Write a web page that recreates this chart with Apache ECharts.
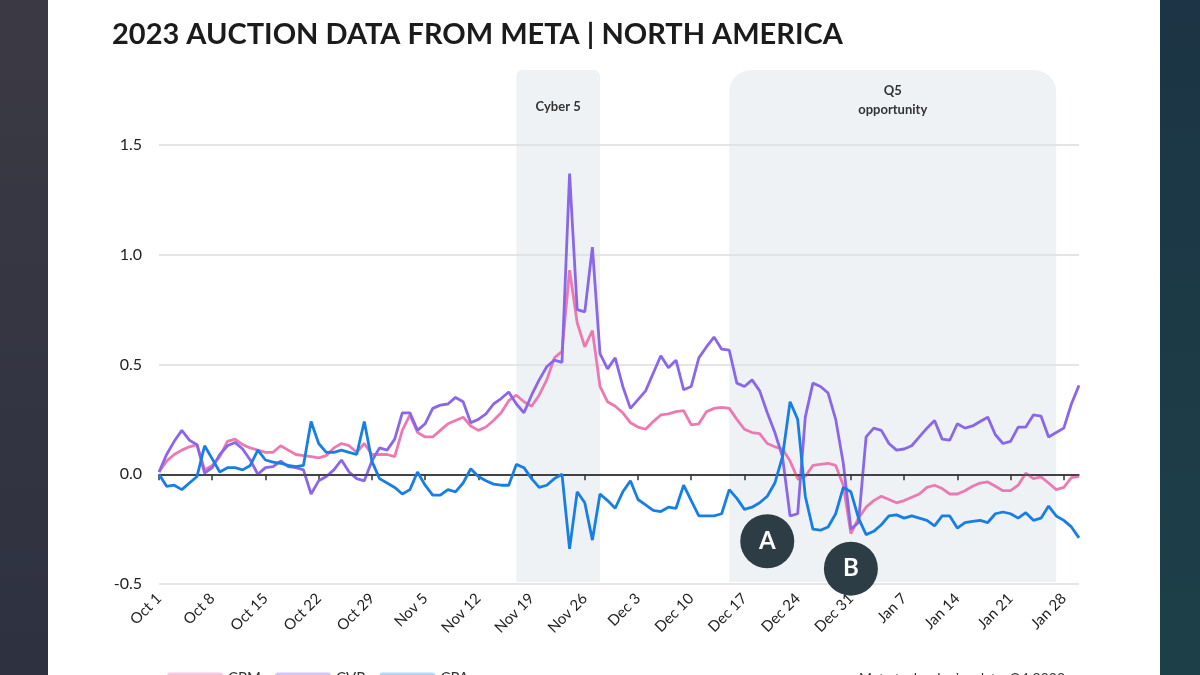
<!DOCTYPE html>
<html>
<head>
<meta charset="utf-8">
<script src="https://cdn.jsdelivr.net/npm/echarts@6/dist/echarts.min.js"></script>
<style>
html,body{margin:0;padding:0;background:#fff;}
#chart{width:1200px;height:675px;}
</style>
</head>
<body>
<div id="chart"></div>
<script>
// ---- data ----
var startMonthNames = ['Oct','Nov','Dec','Jan'];
var monthLengths = [31, 30, 31, 31];
var dayCount = 122;
var dates = [];
(function(){
  var m = 0, d = 1;
  for (var i = 0; i < dayCount; i++) {
    dates.push(startMonthNames[m] + ' ' + d);
    d++;
    if (d > monthLengths[m]) { d = 1; m++; }
  }
})();

var cpm = [0.01,0.06,0.09,0.11,0.125,0.135,0.02,0.04,0.08,0.15,
0.16,0.135,0.12,0.11,0.10,0.10,0.13,0.11,0.09,0.085,
0.08,0.075,0.085,0.12,0.14,0.13,0.10,0.14,0.09,0.09,
0.09,0.08,0.20,0.27,0.19,0.17,0.17,0.20,0.23,0.245,
0.26,0.22,0.20,0.215,0.245,0.28,0.335,0.36,0.33,0.31,
0.36,0.43,0.53,0.56,0.93,0.69,0.58,0.655,0.40,0.33,
0.31,0.28,0.235,0.215,0.205,0.24,0.27,0.275,0.285,0.29,
0.225,0.23,0.285,0.30,0.305,0.30,0.25,0.205,0.19,0.185,
0.14,0.125,0.115,0.06,-0.02,-0.01,0.04,0.045,0.05,0.04,
-0.05,-0.27,-0.20,-0.15,-0.12,-0.10,-0.115,-0.13,-0.12,-0.105,
-0.09,-0.06,-0.05,-0.065,-0.09,-0.09,-0.075,-0.055,-0.04,-0.035,
-0.055,-0.075,-0.075,-0.05,0.005,-0.02,-0.012,-0.04,-0.07,-0.06,
-0.015,-0.01];

var cvr = [0.01,0.09,0.15,0.20,0.155,0.135,0.005,0.03,0.09,0.13,
0.145,0.115,0.065,0.0,0.03,0.035,0.06,0.035,0.03,0.02,
-0.09,-0.03,-0.01,0.02,0.065,0.01,-0.02,-0.03,0.06,0.12,
0.11,0.16,0.28,0.28,0.20,0.23,0.30,0.315,0.32,0.35,
0.33,0.235,0.25,0.275,0.32,0.345,0.375,0.32,0.28,0.36,
0.43,0.49,0.52,0.51,1.37,0.75,0.74,1.035,0.55,0.48,
0.53,0.40,0.30,0.34,0.38,0.46,0.54,0.485,0.52,0.385,
0.40,0.53,0.58,0.625,0.57,0.565,0.415,0.40,0.43,0.38,
0.28,0.19,0.08,-0.19,-0.18,0.26,0.415,0.40,0.37,0.25,
0.05,-0.25,-0.22,0.17,0.21,0.20,0.14,0.11,0.115,0.13,
0.17,0.21,0.245,0.16,0.155,0.23,0.21,0.22,0.24,0.26,
0.18,0.14,0.15,0.215,0.215,0.27,0.265,0.17,0.19,0.21,
0.32,0.405];

var cpa = [0.0,-0.055,-0.05,-0.07,-0.04,-0.01,0.13,0.07,0.01,0.03,
0.03,0.02,0.04,0.11,0.065,0.055,0.05,0.04,0.035,0.04,
0.24,0.14,0.10,0.10,0.11,0.10,0.09,0.24,0.06,-0.02,
-0.04,-0.06,-0.09,-0.07,0.01,-0.05,-0.095,-0.095,-0.07,-0.08,
-0.04,0.025,-0.01,-0.03,-0.045,-0.05,-0.05,0.045,0.03,-0.02,
-0.06,-0.05,-0.02,0.0,-0.34,-0.08,-0.13,-0.30,-0.09,-0.12,
-0.155,-0.08,-0.03,-0.115,-0.14,-0.165,-0.17,-0.15,-0.155,-0.05,
-0.12,-0.19,-0.19,-0.19,-0.18,-0.07,-0.11,-0.16,-0.15,-0.13,
-0.10,-0.04,0.08,0.33,0.25,-0.10,-0.25,-0.255,-0.24,-0.18,
-0.06,-0.08,-0.20,-0.275,-0.26,-0.23,-0.19,-0.185,-0.20,-0.19,
-0.20,-0.21,-0.235,-0.19,-0.19,-0.245,-0.22,-0.215,-0.21,-0.22,
-0.18,-0.172,-0.18,-0.20,-0.175,-0.21,-0.20,-0.145,-0.19,-0.21,
-0.24,-0.29];

var seriesNames = ['CPM', 'CVR', 'CPA'];
var yTicks = [-0.5, 0.0, 0.5, 1.0, 1.5];
var regions = [
  {name: 'Cyber 5', from: 46.7, to: 57.9},
  {name: 'Q5\nopportunity', from: 74.9, to: 118.2}
];
var annotations = [
  {label: 'A', date: 'Dec 20', value: -0.305},
  {label: 'B', date: 'Dec 31', value: -0.43}
];

// ---- chart ----
var colors = ['#ec79b2', '#8a66ea', '#177ee6'];
var chart = echarts.init(document.getElementById('chart'), null, {renderer: 'canvas'});

var option = {
  animation: false,
  backgroundColor: '#ffffff',
  title: {
    text: '2023 AUCTION DATA FROM META | NORTH AMERICA',
    left: 107, top: 15,
    textStyle: {fontFamily: 'Lato', fontWeight: 'bold', fontSize: 29, color: '#1b1b1b'}
  },
  grid: {left: 159, right: 121, top: 145, bottom: 91, containLabel: false},
  legend: {
    bottom: -16, left: 162,
    itemWidth: 56, itemHeight: 12, itemGap: 14,
    icon: 'roundRect',
    textStyle: {fontFamily: 'Lato', fontSize: 15, color: '#333'},
    data: [
      {name: 'CPM', itemStyle: {color: '#f7c6df'}},
      {name: 'CVR', itemStyle: {color: '#d3c6f6'}},
      {name: 'CPA', itemStyle: {color: '#b5d6f6'}}
    ]
  },
  xAxis: {
    type: 'category',
    data: dates,
    boundaryGap: false,
    axisLine: {lineStyle: {color: '#333', width: 1.5}},
    axisTick: {show: true, interval: 6, length: 6, lineStyle: {color: '#333', width: 1.5}},
    axisLabel: {interval: 6, rotate: 45, margin: 12, fontFamily: 'Lato', fontSize: 15, color: '#222'},
    splitLine: {show: false}
  },
  yAxis: {
    type: 'value',
    min: -0.5, max: 1.5, interval: 0.5,
    axisLine: {show: false},
    axisTick: {show: false},
    axisLabel: {
      margin: 17, fontFamily: 'Lato', fontSize: 16, color: '#222',
      formatter: function(v){ return v.toFixed(1); }
    },
    splitLine: {lineStyle: {color: '#dcdcdc', width: 1.5}}
  },
  series: [
    {
      name: 'CPM', type: 'line', data: cpm, showSymbol: false,
      lineStyle: {color: colors[0], width: 2.8}, itemStyle: {color: colors[0]},
      z: 3,
      markLine: {
        silent: true, symbol: 'none', label: {show: false},
        lineStyle: {color: '#3a3a3a', width: 1.6, type: 'solid'},
        data: [{yAxis: 0}]
      }
    },
    {
      name: 'CVR', type: 'line', data: cvr, showSymbol: false,
      lineStyle: {color: colors[1], width: 2.8}, itemStyle: {color: colors[1]},
      z: 4
    },
    {
      name: 'CPA', type: 'line', data: cpa, showSymbol: false,
      lineStyle: {color: colors[2], width: 2.8}, itemStyle: {color: colors[2]},
      z: 5,
      markPoint: {
        symbol: 'circle', symbolSize: 54, silent: true,
        itemStyle: {color: '#2c3d45'},
        label: {show: true, color: '#fff', fontFamily: 'Lato', fontWeight: 'bold', fontSize: 24},
        data: annotations.map(function(a){
          return {coord: [a.date, a.value], value: a.label, label: {formatter: a.label}};
        })
      }
    }
  ]
};
chart.setOption(option);

// shaded regions & frame
var yBottom = chart.convertToPixel({yAxisIndex: 0}, -0.5) - 2;
var graphics = [
  {type: 'rect', z: -20, shape: {x: 0, y: 0, width: 48, height: 675},
   style: {fill: new echarts.graphic.LinearGradient(0,0,0,1,[{offset:0,color:'#3b3a44'},{offset:1,color:'#2e3140'}])}},
  {type: 'rect', z: -20, shape: {x: 1160, y: 0, width: 40, height: 675},
   style: {fill: new echarts.graphic.LinearGradient(0,0,0,1,[{offset:0,color:'#1c3445'},{offset:1,color:'#1d4048'}])}},
  {type: 'text', z: 10, right: 135, top: 671,
   style: {text: 'Meta technologies data, Q4 2023', fontFamily: 'Lato', fontSize: 14, fill: '#333', textAlign: 'right'}}
];
regions.forEach(function(r, i){
  var x1 = chart.convertToPixel({xAxisIndex: 0}, r.from);
  var x2 = chart.convertToPixel({xAxisIndex: 0}, r.to);
  var rad = i === 0 ? 6 : 22;
  graphics.push({
    type: 'rect', z: -10,
    shape: {x: x1, y: 70, width: x2 - x1, height: yBottom - 70, r: [rad, rad, 0, 0]},
    style: {fill: '#eef2f5'}
  });
  graphics.push({
    type: 'text', z: 10,
    x: (x1 + x2) / 2, y: i === 0 ? 97 : 81,
    style: {text: r.name, fontFamily: 'Lato', fontWeight: 'bold', fontSize: 13, fill: '#333',
            textAlign: 'center', lineHeight: 19}
  });
});
chart.setOption({graphic: graphics});
</script>
</body>
</html>
